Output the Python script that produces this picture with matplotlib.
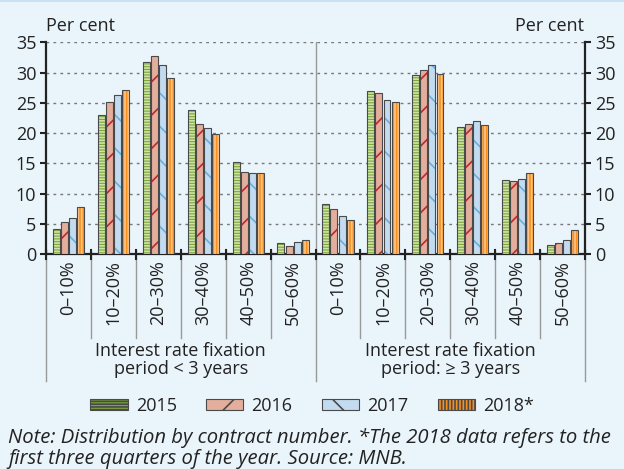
import numpy as np
import matplotlib.pyplot as plt
from matplotlib.patches import Patch

plt.rcParams['font.family'] = ['Open Sans', 'DejaVu Sans']
plt.rcParams['hatch.linewidth'] = 1.2

categories = ["0–10%", "10–20%", "20–30%", "30–40%", "40–50%", "50–60%"]
groups = ["Interest rate fixation\nperiod < 3 years", "Interest rate fixation\nperiod: ≥ 3 years"]
years = ["2015", "2016", "2017", "2018*"]

v2015 = [4.2, 23.0, 31.7, 23.8, 15.2, 1.8, 8.3, 27.0, 29.6, 21.0, 12.3, 1.5]
v2016 = [5.3, 25.1, 32.8, 21.5, 13.5, 1.4, 7.4, 26.6, 30.5, 21.5, 12.0, 1.9]
v2017 = [6.0, 26.3, 31.3, 20.8, 13.4, 2.0, 6.3, 25.5, 31.3, 22.0, 12.4, 2.3]
v2018 = [7.7, 27.1, 29.1, 19.9, 13.4, 2.3, 5.6, 25.2, 29.8, 21.3, 13.4, 3.9]

series = [v2015, v2016, v2017, v2018]
faces = ['#7BA63C', '#E3AE9C', '#C3DBF0', '#F7901E']
hatch_cols = ['#CFE3A8', '#C0262D', '#6AAEDC', '#FCC58C']
hatches = ['------', '/', '\\', '|||||']
edge = '#4A4A4A'
bg = '#EAF4FB'
txt = '#222222'
fs = 13.0

fig = plt.figure(figsize=(6.24, 4.69), dpi=100, facecolor=bg)
ax = fig.add_axes([0.0737, 0.4584, 0.864, 0.451])
ax.set_facecolor(bg)

x = np.arange(12)
w = 0.155
offs = (np.arange(4) - 1.5) * 0.18
for i in range(4):
    ax.bar(x + offs[i], series[i], w, color=faces[i], edgecolor=hatch_cols[i],
           linewidth=0, hatch=hatches[i], zorder=3)
    ax.bar(x + offs[i], series[i], w, fill=False, edgecolor=edge, linewidth=0.8, zorder=4)

ax.set_xlim(-0.5, 11.5)
ax.set_ylim(0, 35)
ax.set_yticks(range(0, 36, 5))
ax.tick_params(axis='y', which='both', left=True, right=True, labelleft=True, labelright=True,
               direction='out', length=4, width=1.5, colors=txt, labelsize=fs, pad=3)
ax.set_xticks([])
for yv in range(5, 36, 5):
    ax.axhline(yv, color='#777777', linestyle=(0, (2, 3)), linewidth=1.0, zorder=1)
ax.axvline(5.5, color='#999999', linewidth=1.0, zorder=1)

for s in ['left', 'right', 'bottom']:
    ax.spines[s].set_color('#222222')
    ax.spines[s].set_linewidth(1.6)
ax.spines['top'].set_visible(False)

trans = ax.get_xaxis_transform()
for b in np.arange(-0.5, 12, 1.0):
    outer = b in (-0.5, 5.5, 11.5)
    ax.plot([b, b], [0.02, -0.60 if outer else -0.395], transform=trans, color='#999999',
            linewidth=1.0, clip_on=False, zorder=1)
    ax.plot([b, b], [0.02, -0.025], transform=trans, color='#222222', linewidth=1.5, clip_on=False, zorder=5)

for i in range(12):
    ax.text(i, -0.03, categories[i % 6], transform=trans, rotation=90, ha='center', va='top',
            fontsize=fs, color=txt)
for g in range(2):
    ax.text(2.5 + 6 * g, -0.415, groups[g], transform=trans, ha='center', va='top',
            fontsize=fs, color=txt, linespacing=1.05)

fig.text(46 / 624, 0.934, "Per cent", fontsize=fs, color=txt, ha='left', va='baseline')
fig.text(584 / 624, 0.934, "Per cent", fontsize=fs, color=txt, ha='right', va='baseline')
fig.add_artist(plt.Line2D([0, 1], [0.997, 0.997], color='#C8E2F4', linewidth=1.5))

handles = [Patch(facecolor=faces[i], edgecolor=hatch_cols[i], hatch=hatches[i], linewidth=0)
           for i in range(4)]
leg = fig.legend(handles, years, loc='center', bbox_to_anchor=(0.5, 0.135), ncol=4, frameon=False,
                 fontsize=fs, handlelength=2.1, handleheight=0.55, columnspacing=1.6,
                 handletextpad=0.45, labelcolor=txt)
for p in leg.get_patches():
    p.set_edgecolor(edge)
    p.set_linewidth(0.8)

fig.text(0.013, 0.067, "Note: Distribution by contract number. *The 2018 data refers to the",
         fontsize=14.6, style='italic', color=txt, ha='left', va='center')
fig.text(0.013, 0.022, "first three quarters of the year. Source: MNB.",
         fontsize=14.6, style='italic', color=txt, ha='left', va='center')

fig.savefig('out.png', dpi=100, facecolor=bg)
